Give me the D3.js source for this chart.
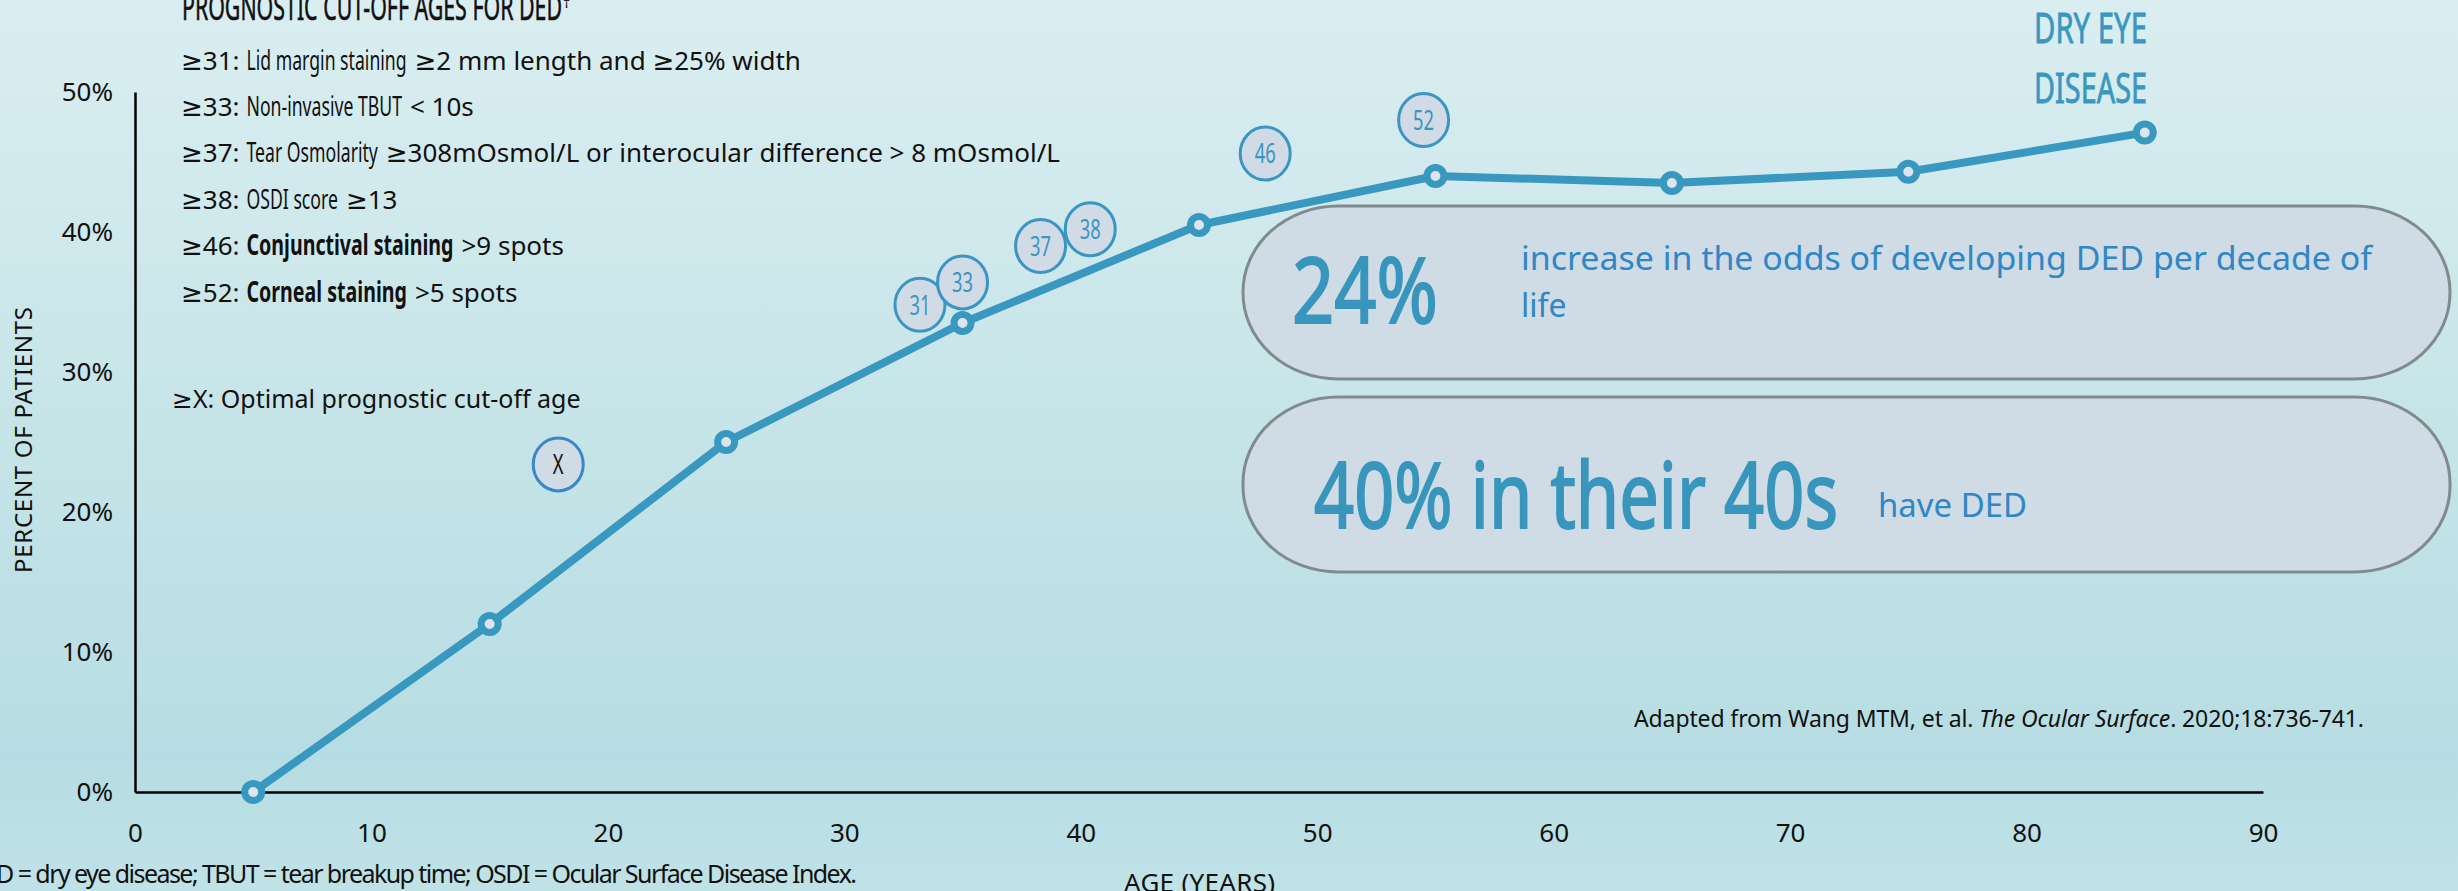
<!DOCTYPE html>
<html>
<head>
<meta charset="utf-8">
<script src="https://cdn.jsdelivr.net/npm/d3@7"></script>
<style>
  body { margin: 0; overflow: hidden; }
  svg { display: block; }
</style>
</head>
<body>
<div id="chart"></div>
<script>
//// data
var ages = [5, 15, 25, 35, 45, 55, 65, 75, 85];
var pctDED = [0, 12, 25, 33.5, 40.5, 44, 43.5, 44.3, 47.1];
var xTicks = [0, 10, 20, 30, 40, 50, 60, 70, 80, 90];
var yTicks = [0, 10, 20, 30, 40, 50];

// cut-off age bubbles (label, placed at age / percent)
var cutoffLabels = ["31", "33", "37", "38", "46", "52", "X"];
var cutoffAge = [33.2, 35.0, 38.3, 40.4, 47.8, 54.5, 17.9];
var cutoffPct = [34.8, 36.4, 39.0, 40.2, 45.6, 48.0, 23.4];

// prefix, condensed part, rest, bold?
var cutoffLines = [
  ["≥31:", "Lid margin staining", "≥2 mm length and ≥25% width", false],
  ["≥33:", "Non-invasive TBUT", "< 10s", false],
  ["≥37:", "Tear Osmolarity", "≥308mOsmol/L or interocular difference > 8 mOsmol/L", false],
  ["≥38:", "OSDI score", "≥13", false],
  ["≥46:", "Conjunctival staining", ">9 spots", true],
  ["≥52:", "Corneal staining", ">5 spots", true]
];

//// chart
var W = 2458, H = 891;
var margin = {top: 92, right: 195, bottom: 99, left: 135},
    width = W - margin.left - margin.right,
    height = H - margin.top - margin.bottom;

var sans = "'Noto Sans', 'DejaVu Sans', sans-serif";
var lineBlue = "#3898c0";
var textBlue = "#2f87c6";
var bigBlue = "#3896bd";

var svg = d3.select("#chart").append("svg")
    .attr("width", W)
    .attr("height", H);

// background gradient
var grad = svg.append("defs").append("linearGradient")
    .attr("id", "bg").attr("x1", 0).attr("y1", 0).attr("x2", 0).attr("y2", 1);
grad.append("stop").attr("offset", "0%").attr("stop-color", "#daeef1");
grad.append("stop").attr("offset", "55%").attr("stop-color", "#c3e3e7");
grad.append("stop").attr("offset", "85%").attr("stop-color", "#b6dde3");
grad.append("stop").attr("offset", "100%").attr("stop-color", "#bfe2e7");
svg.append("rect").attr("width", W).attr("height", H).attr("fill", "url(#bg)");

var g = svg.append("g")
    .attr("transform", "translate(" + margin.left + "," + margin.top + ")");

var x = d3.scaleLinear().domain([0, 90]).range([0, width]);
var y = d3.scaleLinear().domain([0, 50]).range([height, 0]);

//// axes
var xAxis = g.append("g")
    .attr("transform", "translate(0," + height + ")")
    .call(d3.axisBottom(x).tickValues(xTicks).tickSize(0).tickPadding(32));
var yAxis = g.append("g")
    .call(d3.axisLeft(y).tickValues(yTicks).tickSize(0).tickPadding(22)
      .tickFormat(function(d) { return d + "%"; }));

[xAxis, yAxis].forEach(function(a) {
  a.attr("font-family", sans).attr("font-size", 26);
  a.select(".domain").attr("stroke", "#000").attr("stroke-width", 2.5);
  a.selectAll("text").attr("fill", "#111");
});

//// line + points
var pts = ages.map(function(a, i) { return {age: a, pct: pctDED[i]}; });

g.append("path")
    .datum(pts)
    .attr("fill", "none")
    .attr("stroke", lineBlue)
    .attr("stroke-width", 8)
    .attr("stroke-linejoin", "round")
    .attr("d", d3.line().x(function(d) { return x(d.age); }).y(function(d) { return y(d.pct); }));

g.selectAll(".dot")
    .data(pts)
  .enter().append("circle")
    .attr("class", "dot")
    .attr("cx", function(d) { return x(d.age); })
    .attr("cy", function(d) { return y(d.pct); })
    .attr("r", 8.5)
    .attr("fill", "#dde4ec")
    .attr("stroke", lineBlue)
    .attr("stroke-width", 7);

//// cut-off bubbles
var bub = g.selectAll(".bubble")
    .data(cutoffLabels.map(function(l, i) { return {label: l, age: cutoffAge[i], pct: cutoffPct[i]}; }))
  .enter().append("g")
    .attr("class", "bubble")
    .attr("transform", function(d) { return "translate(" + x(d.age) + "," + y(d.pct) + ")"; });
bub.append("ellipse")
    .attr("rx", 25).attr("ry", 26.5)
    .attr("fill", "#d0dbe6")
    .attr("stroke", function(d) { return d.label == "X" ? "#3a88c8" : "#3b95c2"; })
    .attr("stroke-width", 3);
bub.append("text")
    .attr("text-anchor", "middle")
    .attr("dy", "0.36em")
    .attr("transform", "scale(0.68,1)")
    .attr("font-family", sans)
    .attr("font-size", 27)
    .attr("fill", function(d) { return d.label == "X" ? "#111" : "#3b95c2"; })
    .text(function(d) { return d.label; });

//// axis titles
svg.append("text")
    .attr("transform", "translate(32,440) rotate(-90)")
    .attr("text-anchor", "middle")
    .attr("font-family", sans)
    .attr("font-size", 24)
    .attr("textLength", 266)
    .attr("fill", "#111")
    .text("PERCENT OF PATIENTS");

svg.append("text")
    .attr("x", 1124).attr("y", 892)
    .attr("font-family", sans)
    .attr("font-size", 26)
    .attr("textLength", 151)
    .attr("fill", "#111")
    .text("AGE (YEARS)");

//// left text block
svg.append("text")
    .attr("x", 182).attr("y", 20)
    .attr("font-family", sans)
    .attr("font-size", 37)
    .attr("textLength", 380)
    .attr("lengthAdjust", "spacingAndGlyphs")
    .attr("fill", "#111")
    .attr("stroke", "#111").attr("stroke-width", 0.6)
    .text("PROGNOSTIC CUT-OFF AGES FOR DED");
svg.append("text")
    .attr("x", 563).attr("y", 8)
    .attr("font-family", sans).attr("font-size", 14).attr("fill", "#111")
    .text("†");

cutoffLines.forEach(function(line, i) {
  var yb = 69.5 + i * 46.4;
  var cx = 181;
  var t1 = svg.append("text")
      .attr("x", cx).attr("y", yb)
      .attr("font-family", sans).attr("font-size", 26).attr("fill", "#111")
      .text(line[0]);
  cx += t1.node().getComputedTextLength() + 7;
  var t2 = svg.append("text")
      .attr("x", cx).attr("y", yb)
      .attr("font-family", sans).attr("font-size", 28).attr("fill", "#111")
      .attr("font-weight", line[3] ? "bold" : null)
      .text(line[1]);
  var w2 = t2.node().getComputedTextLength() * (line[3] ? 0.7 : 0.63);
  t2.attr("textLength", w2).attr("lengthAdjust", "spacingAndGlyphs");
  cx += w2 + 8;
  svg.append("text")
      .attr("x", cx).attr("y", yb)
      .attr("font-family", sans).attr("font-size", 26).attr("fill", "#111")
      .text(line[2]);
});

svg.append("text")
    .attr("x", 172).attr("y", 408)
    .attr("font-family", sans).attr("font-size", 25).attr("fill", "#111")
    .text("≥X: Optimal prognostic cut-off age");

//// DRY EYE DISEASE
["DRY EYE", "DISEASE"].forEach(function(s, i) {
  svg.append("text")
      .attr("x", 2034).attr("y", 43 + i * 60)
      .attr("font-family", sans)
      .attr("font-size", 42)
      .attr("textLength", 113)
      .attr("lengthAdjust", "spacingAndGlyphs")
      .attr("fill", "#3a97bf")
      .attr("stroke", "#3a97bf").attr("stroke-width", 0.8)
      .text(s);
});

//// call-out pills
var pills = [{y: 206, h: 173}, {y: 397, h: 175}];
svg.selectAll(".pill")
    .data(pills)
  .enter().append("rect")
    .attr("class", "pill")
    .attr("x", 1243).attr("y", function(d) { return d.y; })
    .attr("width", 1207).attr("height", function(d) { return d.h; })
    .attr("rx", 95).attr("ry", 86)
    .attr("fill", "#cfdbe5")
    .attr("stroke", "#7f8b8d")
    .attr("stroke-width", 3);

svg.append("text")
    .attr("x", 1292).attr("y", 323)
    .attr("font-family", sans)
    .attr("font-size", 92)
    .attr("textLength", 146).attr("lengthAdjust", "spacingAndGlyphs")
    .attr("fill", bigBlue)
    .attr("stroke", bigBlue).attr("stroke-width", 2)
    .text("24%");
svg.append("text")
    .attr("x", 1521).attr("y", 270)
    .attr("font-family", sans).attr("font-size", 32)
    .attr("textLength", 851).attr("lengthAdjust", "spacingAndGlyphs")
    .attr("fill", textBlue)
    .text("increase in the odds of developing DED per decade of");
svg.append("text")
    .attr("x", 1521).attr("y", 317)
    .attr("font-family", sans).attr("font-size", 32)
    .attr("fill", textBlue)
    .text("life");

svg.append("text")
    .attr("x", 1314).attr("y", 528)
    .attr("font-family", sans)
    .attr("font-size", 92)
    .attr("textLength", 524).attr("lengthAdjust", "spacingAndGlyphs")
    .attr("fill", bigBlue)
    .attr("stroke", bigBlue).attr("stroke-width", 2)
    .text("40% in their 40s");
svg.append("text")
    .attr("x", 1878).attr("y", 517)
    .attr("font-family", sans).attr("font-size", 32)
    .attr("textLength", 149).attr("lengthAdjust", "spacingAndGlyphs")
    .attr("fill", textBlue)
    .text("have DED");

//// source + footnote
var src = svg.append("text")
    .attr("x", 1634).attr("y", 727)
    .attr("font-family", sans).attr("font-size", 23)
    .attr("textLength", 730)
    .attr("fill", "#111");
src.append("tspan").text("Adapted from Wang MTM, et al. ");
src.append("tspan").attr("font-style", "italic").text("The Ocular Surface");
src.append("tspan").text(". 2020;18:736-741.");

svg.append("text")
    .attr("x", -33).attr("y", 883)
    .attr("font-family", sans).attr("font-size", 25)
    .attr("textLength", 890)
    .attr("fill", "#111")
    .text("DED = dry eye disease; TBUT = tear breakup time; OSDI = Ocular Surface Disease Index.");
</script>
</body>
</html>
